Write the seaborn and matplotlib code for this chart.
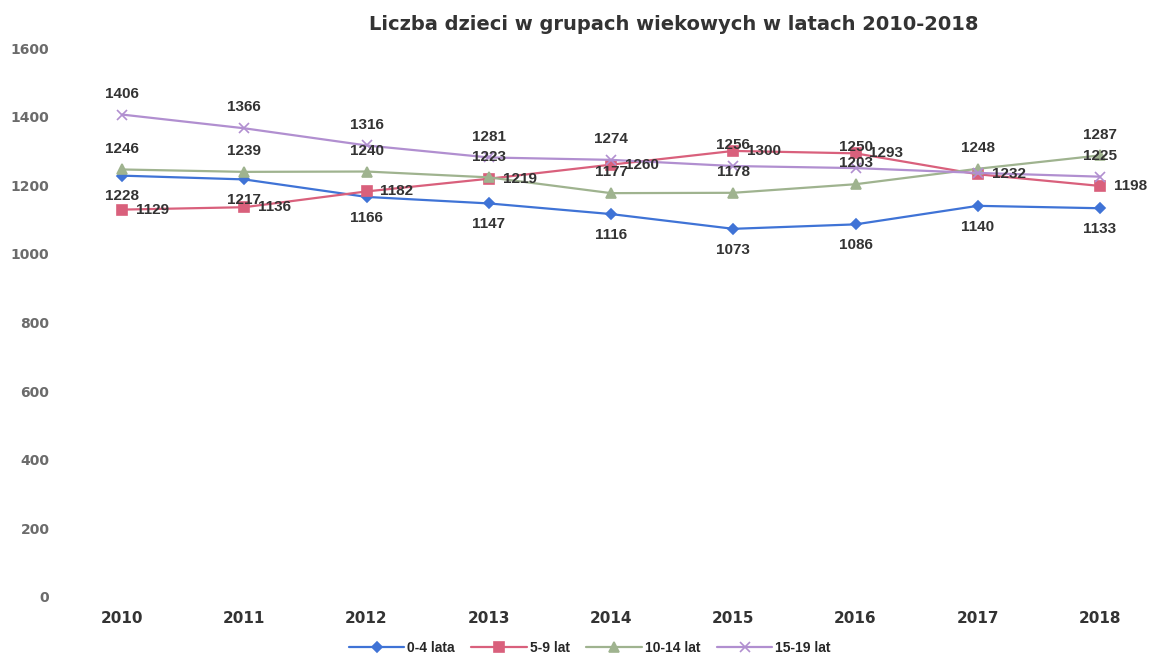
import matplotlib
matplotlib.use("Agg")
import matplotlib.pyplot as plt
import seaborn as sns
import pandas as pd

years = [2010, 2011, 2012, 2013, 2014, 2015, 2016, 2017, 2018]
series_names = ["0-4 lata", "5-9 lat", "10-14 lat", "15-19 lat"]
age_0_4 = [1228, 1217, 1166, 1147, 1116, 1073, 1086, 1140, 1133]
age_5_9 = [1129, 1136, 1182, 1219, 1260, 1300, 1293, 1232, 1198]
age_10_14 = [1246, 1239, 1240, 1223, 1177, 1178, 1203, 1248, 1287]
age_15_19 = [1406, 1366, 1316, 1281, 1274, 1256, 1250, 1236, 1225]
y_ticks = [0, 200, 400, 600, 800, 1000, 1200, 1400, 1600]

values = [age_0_4, age_5_9, age_10_14, age_15_19]

colors = ["#3f73d6", "#d9607c", "#9fb38f", "#b18fd0"]
markers = ["D", "s", "^", "x"]
msizes = [5.5, 7, 6.5, 6.5]

sns.set_theme(style="white")
plt.rcParams["font.family"] = ["Liberation Sans", "DejaVu Sans"]

fig = plt.figure(figsize=(11.61, 6.56), dpi=100)
ax = fig.add_axes([80 / 1161, 59 / 656, 1060 / 1161, 549 / 656])

for name, vals, c, m, ms in zip(series_names, values, colors, markers, msizes):
    d = pd.DataFrame({"rok": years, "liczba": vals})
    sns.lineplot(data=d, x="rok", y="liczba", color=c, marker=m, label=name,
                 linewidth=1.6, markersize=ms, markeredgewidth=1.2,
                 markeredgecolor=c, ax=ax)

ax.set_ylim(0, 1600)
ax.set_xlim(2010 - 0.344, 2018 + 0.327)
ax.set_yticks(y_ticks)
ax.set_yticklabels([str(t) for t in y_ticks], fontsize=10, fontweight="bold",
                   color="#6b6b6b", family="DejaVu Sans")
ax.set_xticks(years)
ax.set_xticklabels([str(y) for y in years], fontsize=11, fontweight="bold",
                   color="#333333", family="DejaVu Sans")
ax.tick_params(axis="y", pad=22, length=0)
ax.tick_params(axis="x", pad=10, length=0)
for s in ax.spines.values():
    s.set_visible(False)
ax.set_xlabel("")
ax.set_ylabel("")

# data labels: blue below, red right, green above, purple above
offsets = [(0, -15, "center", "center"), (10, 0, "left", "center"),
           (0, 15, "center", "center"), (0, 15, "center", "center")]
for si, (vals, (dx, dy, ha, va)) in enumerate(zip(values, offsets)):
    for x, v in zip(years, vals):
        if si == 3 and x == 2017:
            continue
        ax.annotate(str(v), (x, v), xytext=(dx, dy), textcoords="offset points",
                    ha=ha, va=va, fontsize=11, color="#333333", fontweight="bold")

fig.suptitle("Liczba dzieci w grupach wiekowych w latach 2010-2018",
             x=0.58, y=1 - 25 / 656, va="center", fontsize=14, fontweight="bold",
             color="#333333", family="DejaVu Sans")

h, l = ax.get_legend_handles_labels()
ax.get_legend().remove()
fig.legend(h, l, loc="center", bbox_to_anchor=(0.508, 1 - 648 / 656), ncol=4,
           frameon=False, handlelength=4.0, columnspacing=1.2,
           handletextpad=0.2, prop={"weight": "bold", "size": 10})

fig.savefig("out.png", dpi=100)
